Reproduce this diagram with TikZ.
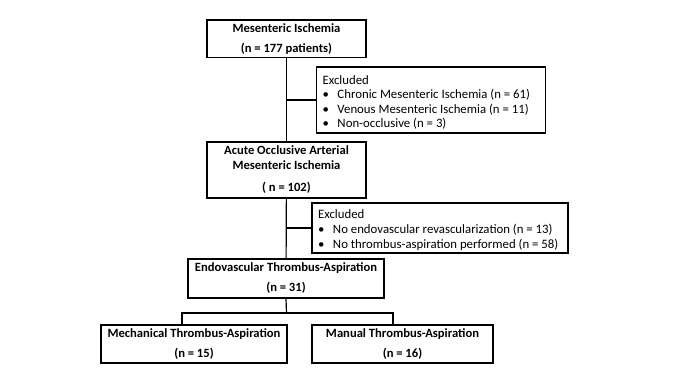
\documentclass[tikz,border=0pt]{standalone}
\usepackage{fontspec}
\setmainfont{Carlito}
\usetikzlibrary{positioning}

\newcommand{\bul}{\makebox[15pt][l]{\textbullet}}

\begin{document}
\begin{tikzpicture}[x=1pt,y=-1pt,
  stage/.style={draw,line width=1.2pt,align=center,inner sep=0pt,font=\fontsize{12.6}{20}\selectfont\bfseries,execute at begin node=\rule{0pt}{13.5pt}},
  excl/.style={draw,line width=1.2pt,align=flush left,inner xsep=6pt,inner ysep=0pt,execute at begin node=\rule{0pt}{14pt}},
  link/.style={line width=1.2pt}]
\useasboundingbox (0,0) rectangle (680,383);
% stages
\node[stage,minimum width=159,minimum height=37.5] (top) at (286.5,38.8) {Mesenteric Ischemia\\(n = 177 patients)};
\node[stage,minimum width=159,minimum height=56] (acute) at (286.5,170) {Acute Occlusive Arterial\\[-5pt]Mesenteric Ischemia\\[2pt]( n = 102)};
\node[stage,minimum width=196,minimum height=39] (endo) at (286,278.5) {Endovascular Thrombus-Aspiration\\(n = 31)};
\node[stage,minimum width=186,minimum height=38] (mech) at (194,344) {Mechanical Thrombus-Aspiration\\(n = 15)};
\node[stage,minimum width=181,minimum height=38] (manual) at (402.5,344) {Manual Thrombus-Aspiration\\(n = 16)};
% exclusions
\node[excl,text width=217pt,minimum width=229,minimum height=66,font=\fontsize{12.8}{14.5}\selectfont] (excl1) at (431,100) {Excluded\\\bul Chronic Mesenteric Ischemia (n = 61)\\\bul Venous Mesenteric Ischemia (n = 11)\\\bul Non-occlusive (n = 3)};
\node[excl,text width=244pt,minimum width=256,minimum height=50,font=\fontsize{12.8}{15}\selectfont] (excl2) at (440,228) {Excluded\\\bul No endovascular revascularization (n = 13)\\\bul No thrombus-aspiration performed (n = 58)};
% connectors
\draw[link] (top) -- (acute);
\draw[link] (excl1.west) -- (excl1.west -| top.south);
\draw[link] (acute) -- (endo);
\draw[link] (excl2.west) -- (excl2.west -| acute.south);
\coordinate (split) at (286.5,313);
\draw[link] (endo.south) -- (split);
\draw[link] ([xshift=-12]mech.north) |- (split) -| ([xshift=-9.5]manual.north);
\end{tikzpicture}
\end{document}
